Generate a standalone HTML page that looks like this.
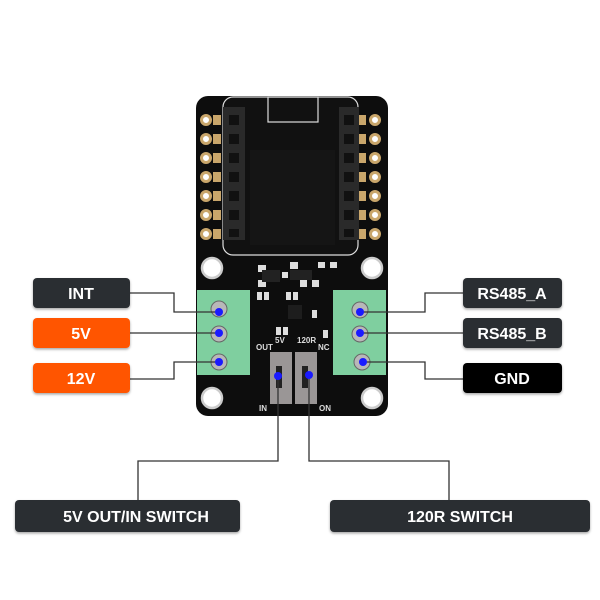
<!DOCTYPE html>
<html><head><meta charset="utf-8"><style>
html,body{margin:0;padding:0;background:#fff;}
svg{display:block}
text{font-family:"Liberation Sans",sans-serif;font-weight:bold;fill:#fff;}
</style></head><body>
<svg width="600" height="600" viewBox="0 0 600 600" xmlns="http://www.w3.org/2000/svg">
<defs>
<filter id="sh" x="-10%" y="-10%" width="120%" height="140%"><feDropShadow dx="0" dy="1.5" stdDeviation="1.2" flood-color="#000" flood-opacity="0.35"/></filter>
</defs>
<!-- board -->
<rect x="196" y="96" width="192" height="320" rx="12" fill="#0d0d0d"/>
<!-- module outline -->
<rect x="223" y="97" width="135" height="158" rx="10" fill="#111" stroke="#ddd" stroke-width="1.2"/>
<rect x="268" y="97" width="50" height="25" fill="none" stroke="#ddd" stroke-width="1.2"/>
<rect x="250" y="150" width="85" height="95" fill="#151515"/>
<!-- headers -->
<rect x="223" y="107" width="22" height="133" fill="#2a2a2a"/>
<rect x="339" y="107" width="20" height="133" fill="#2a2a2a"/>
<g fill="#111">
<rect x="229" y="115" width="10" height="10"/><rect x="229" y="134" width="10" height="10"/><rect x="229" y="153" width="10" height="10"/><rect x="229" y="172" width="10" height="10"/><rect x="229" y="191" width="10" height="10"/><rect x="229" y="210" width="10" height="10"/><rect x="229" y="229" width="10" height="8"/>
<rect x="344" y="115" width="10" height="10"/><rect x="344" y="134" width="10" height="10"/><rect x="344" y="153" width="10" height="10"/><rect x="344" y="172" width="10" height="10"/><rect x="344" y="191" width="10" height="10"/><rect x="344" y="210" width="10" height="10"/><rect x="344" y="229" width="10" height="8"/>
</g>
<g fill="#c9a66b">
<rect x="213" y="115" width="8" height="10"/><rect x="213" y="134" width="8" height="10"/><rect x="213" y="153" width="8" height="10"/><rect x="213" y="172" width="8" height="10"/><rect x="213" y="191" width="8" height="10"/><rect x="213" y="210" width="8" height="10"/><rect x="213" y="229" width="8" height="10"/>
<rect x="359" y="115" width="7" height="10"/><rect x="359" y="134" width="7" height="10"/><rect x="359" y="153" width="7" height="10"/><rect x="359" y="172" width="7" height="10"/><rect x="359" y="191" width="7" height="10"/><rect x="359" y="210" width="7" height="10"/><rect x="359" y="229" width="7" height="10"/>
</g>
<g fill="#fff" stroke="#c9a66b" stroke-width="3">
<circle cx="206" cy="120" r="4.5"/><circle cx="206" cy="139" r="4.5"/><circle cx="206" cy="158" r="4.5"/><circle cx="206" cy="177" r="4.5"/><circle cx="206" cy="196" r="4.5"/><circle cx="206" cy="215" r="4.5"/><circle cx="206" cy="234" r="4.5"/>
<circle cx="375" cy="120" r="4.5"/><circle cx="375" cy="139" r="4.5"/><circle cx="375" cy="158" r="4.5"/><circle cx="375" cy="177" r="4.5"/><circle cx="375" cy="196" r="4.5"/><circle cx="375" cy="215" r="4.5"/><circle cx="375" cy="234" r="4.5"/>
</g>
<!-- mount holes -->
<g fill="#fff" stroke="#ccc" stroke-width="2.5">
<circle cx="212" cy="268" r="10"/><circle cx="372" cy="268" r="10"/><circle cx="212" cy="398" r="10"/><circle cx="372" cy="398" r="10"/>
</g>
<!-- SMD parts -->
<g fill="#ddd">
<rect x="258" y="265" width="8" height="7"/><rect x="258" y="280" width="8" height="7"/><rect x="282" y="272" width="6" height="6"/>
<rect x="290" y="262" width="8" height="7"/><rect x="300" y="280" width="7" height="7"/><rect x="312" y="280" width="7" height="7"/>
<rect x="318" y="262" width="7" height="6"/><rect x="330" y="262" width="7" height="6"/>
<rect x="257" y="292" width="5" height="8"/><rect x="264" y="292" width="5" height="8"/><rect x="286" y="292" width="5" height="8"/><rect x="293" y="292" width="5" height="8"/>
<rect x="312" y="310" width="5" height="8"/><rect x="276" y="327" width="5" height="8"/><rect x="283" y="327" width="5" height="8"/><rect x="323" y="330" width="5" height="8"/>
</g>
<rect x="262" y="270" width="18" height="12" fill="#222"/>
<rect x="290" y="270" width="22" height="10" fill="#222"/>
<rect x="288" y="305" width="14" height="14" fill="#1d1d1d"/>
<text x="256" y="350" font-size="8" style="fill:#ddd">OUT</text>
<text x="275" y="343" font-size="8" style="fill:#ddd">5V</text>
<text x="297" y="343" font-size="8" style="fill:#ddd">120R</text>
<text x="318" y="350" font-size="8" style="fill:#ddd">NC</text>
<text x="259" y="411" font-size="8" style="fill:#ddd">IN</text>
<text x="319" y="411" font-size="8" style="fill:#ddd">ON</text>
<!-- switches -->
<rect x="270" y="352" width="22" height="52" fill="#9a9696"/>
<rect x="295" y="352" width="22" height="52" fill="#9a9696"/>
<rect x="276" y="366" width="6" height="22" fill="#222"/>
<rect x="302" y="366" width="6" height="22" fill="#222"/>
<!-- terminals -->
<rect x="197" y="290" width="53" height="85" fill="#7fcf9f"/>
<rect x="333" y="290" width="53" height="85" fill="#7fcf9f"/>
<g fill="#b8b8b8" stroke="#666" stroke-width="1">
<circle cx="219" cy="309" r="8"/><circle cx="219" cy="334" r="8"/><circle cx="219" cy="362" r="8"/>
<circle cx="360" cy="310" r="8"/><circle cx="360" cy="334" r="8"/><circle cx="362" cy="362" r="8"/>
</g>
<!-- connectors -->
<g fill="none" stroke="#333" stroke-width="1.3">
<polyline points="130,293 174,293 174,312 219,312"/>
<polyline points="130,333 219,333"/>
<polyline points="130,379 174,379 174,362 219,362"/>
<polyline points="463,293 425,293 425,312 360,312"/>
<polyline points="463,333 360,333"/>
<polyline points="463,379 425,379 425,362 363,362"/>
<polyline points="278,376 278,461 138,461 138,500"/>
<polyline points="309,375 309,461 449,461 449,500"/>
</g>
<g fill="#1a1aff">
<circle cx="219" cy="312" r="4"/><circle cx="219" cy="333" r="4"/><circle cx="219" cy="362" r="4"/>
<circle cx="360" cy="312" r="4"/><circle cx="360" cy="333" r="4"/><circle cx="363" cy="362" r="4"/>
<circle cx="278" cy="376" r="4"/><circle cx="309" cy="375" r="4"/>
</g>
<!-- labels -->
<g filter="url(#sh)">
<rect x="33" y="278" width="97" height="30" rx="4" fill="#2b2f33"/>
<rect x="33" y="318" width="97" height="30" rx="4" fill="#ff5500"/>
<rect x="33" y="363" width="97" height="30" rx="4" fill="#ff5500"/>
<rect x="463" y="278" width="99" height="30" rx="4" fill="#2b2f33"/>
<rect x="463" y="318" width="99" height="30" rx="4" fill="#2b2f33"/>
<rect x="463" y="363" width="99" height="30" rx="4" fill="#000"/>
<rect x="15" y="500" width="225" height="32" rx="4" fill="#2b2f33"/>
<rect x="330" y="500" width="260" height="32" rx="4" fill="#2b2f33"/>
</g>
<g font-size="16" text-anchor="middle">
<text x="81" y="299">INT</text>
<text x="81" y="339">5V</text>
<text x="81" y="384">12V</text>
<text x="512" y="299">RS485_A</text>
<text x="512" y="339">RS485_B</text>
<text x="512" y="384">GND</text>
<text x="136" y="522">5V OUT/IN SWITCH</text>
<text x="460" y="522">120R SWITCH</text>
</g>
</svg>
</body></html>
